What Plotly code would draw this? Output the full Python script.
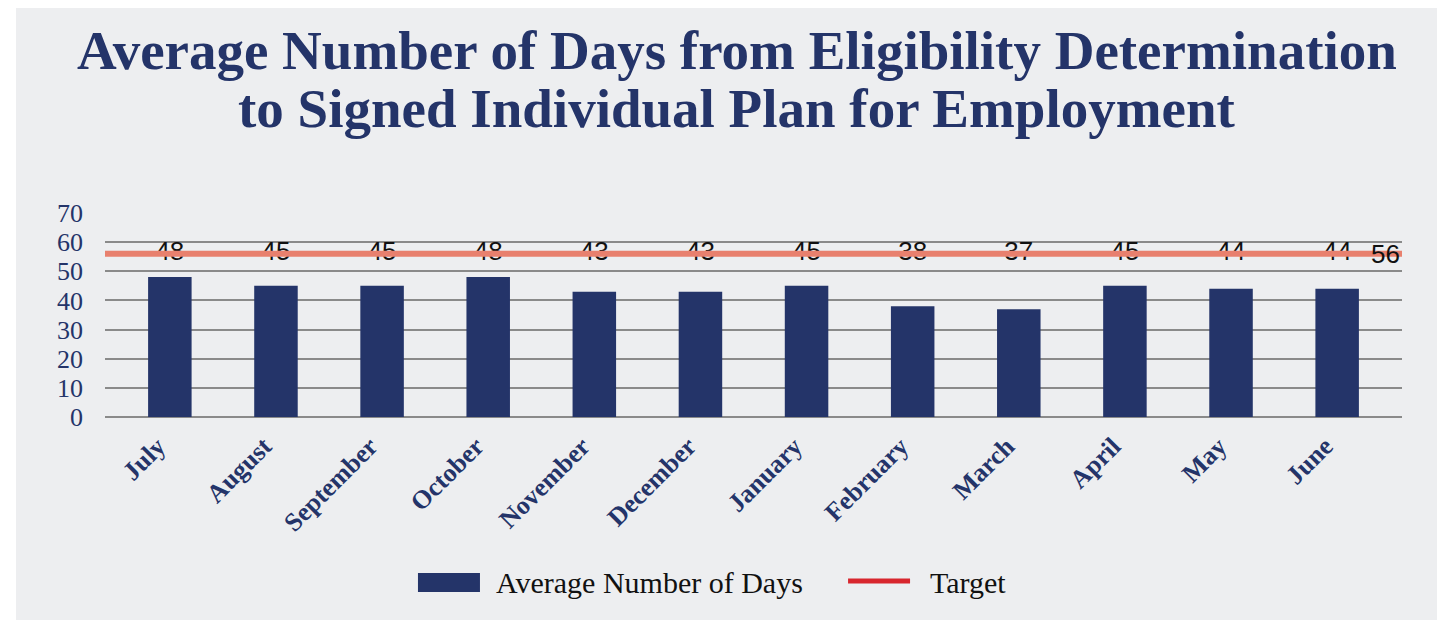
import plotly.graph_objects as go

months = ["July", "August", "September", "October", "November", "December",
          "January", "February", "March", "April", "May", "June"]
avg_days = [48, 45, 45, 48, 43, 43, 45, 38, 37, 45, 44, 44]
target = 56

title_lines = ["Average Number of Days from Eligibility Determination",
               "to Signed Individual Plan for Employment"]

NAVY = "#243469"
SALMON = "#E8806E"
RED = "#D8262E"
SERIF = "Liberation Serif, DejaVu Serif, serif"
SANS = "Liberation Sans Narrow, Liberation Sans, sans-serif"

fig = go.Figure()

fig.add_trace(go.Bar(
    x=months,
    y=avg_days,
    name="Average Number of Days",
    marker=dict(color=NAVY, line=dict(width=0)),
    showlegend=False,
))

# target line across the full plot width (hidden x axis 0..1)
fig.add_trace(go.Scatter(
    x=[0, 1],
    y=[target, target],
    xaxis="x2",
    mode="lines",
    name="Target",
    line=dict(color=SALMON, width=6),
    showlegend=False,
    hoverinfo="skip",
))

# value labels sit on the target line
fig.add_trace(go.Scatter(
    x=months,
    y=[target] * len(months),
    mode="text",
    text=[str(v) for v in avg_days],
    textposition="middle center",
    textfont=dict(family=SANS, size=26, color="#111111"),
    showlegend=False,
    hoverinfo="skip",
))

fig.add_annotation(
    x=1, y=target, xref="paper", yref="y",
    text=str(target), showarrow=False,
    xanchor="right", yanchor="middle",
    font=dict(family=SANS, size=26, color="#111111"),
)

# title, two lines set tight
for ypos, line in zip([1.795, 1.51], title_lines):
    fig.add_annotation(
        x=0.487, y=ypos, xref="paper", yref="paper",
        text=line, showarrow=False,
        xanchor="center", yanchor="middle",
        font=dict(family=SERIF, size=55, color=NAVY, weight="bold"),
    )

# grey panel behind the whole chart
fig.add_shape(
    type="rect", xref="paper", yref="paper",
    x0=-0.0686, x1=1.027, y0=-0.995, y1=2.005,
    fillcolor="#EDEEF0", line=dict(width=0), layer="below",
)

# hand-made legend
fig.add_shape(
    type="rect", xref="paper", yref="paper",
    x0=0.2413, x1=0.2891, y0=-0.858, y1=-0.765,
    fillcolor=NAVY, line=dict(width=0),
)
fig.add_annotation(
    x=0.2999, y=-0.809, xref="paper", yref="paper",
    text="Average Number of Days", showarrow=False,
    xanchor="left", yanchor="middle",
    font=dict(family=SERIF, size=30, color="#111111"),
)
fig.add_shape(
    type="line", xref="paper", yref="paper",
    x0=0.5729, x1=0.6207, y0=-0.804, y1=-0.804,
    line=dict(color=RED, width=5),
)
fig.add_annotation(
    x=0.6345, y=-0.809, xref="paper", yref="paper",
    text="Target", showarrow=False,
    xanchor="left", yanchor="middle",
    font=dict(family=SERIF, size=30, color="#111111"),
)

fig.update_layout(
    width=1439,
    height=614,
    margin=dict(l=97, r=45, t=205, b=205),
    paper_bgcolor="white",
    plot_bgcolor="rgba(0,0,0,0)",
    bargap=0.59,
    showlegend=False,
    xaxis=dict(
        tickangle=-45,
        tickfont=dict(family=SERIF, size=26, color=NAVY, weight="bold"),
        showgrid=False,
        showline=False,
        ticks="",
        ticklabelshift=-12,
        ticklabelstandoff=8,
    ),
    xaxis2=dict(overlaying="x", range=[0, 1], visible=False),
    yaxis=dict(
        range=[0, 70],
        dtick=10,
        tickfont=dict(family=SERIF, size=26, color=NAVY),
        gridcolor="#8A8A8A",
        gridwidth=2,
        zeroline=True,
        zerolinecolor="#8A8A8A",
        zerolinewidth=2,
        ticklabelstandoff=21,
    ),
)

fig.write_html("out.html")
